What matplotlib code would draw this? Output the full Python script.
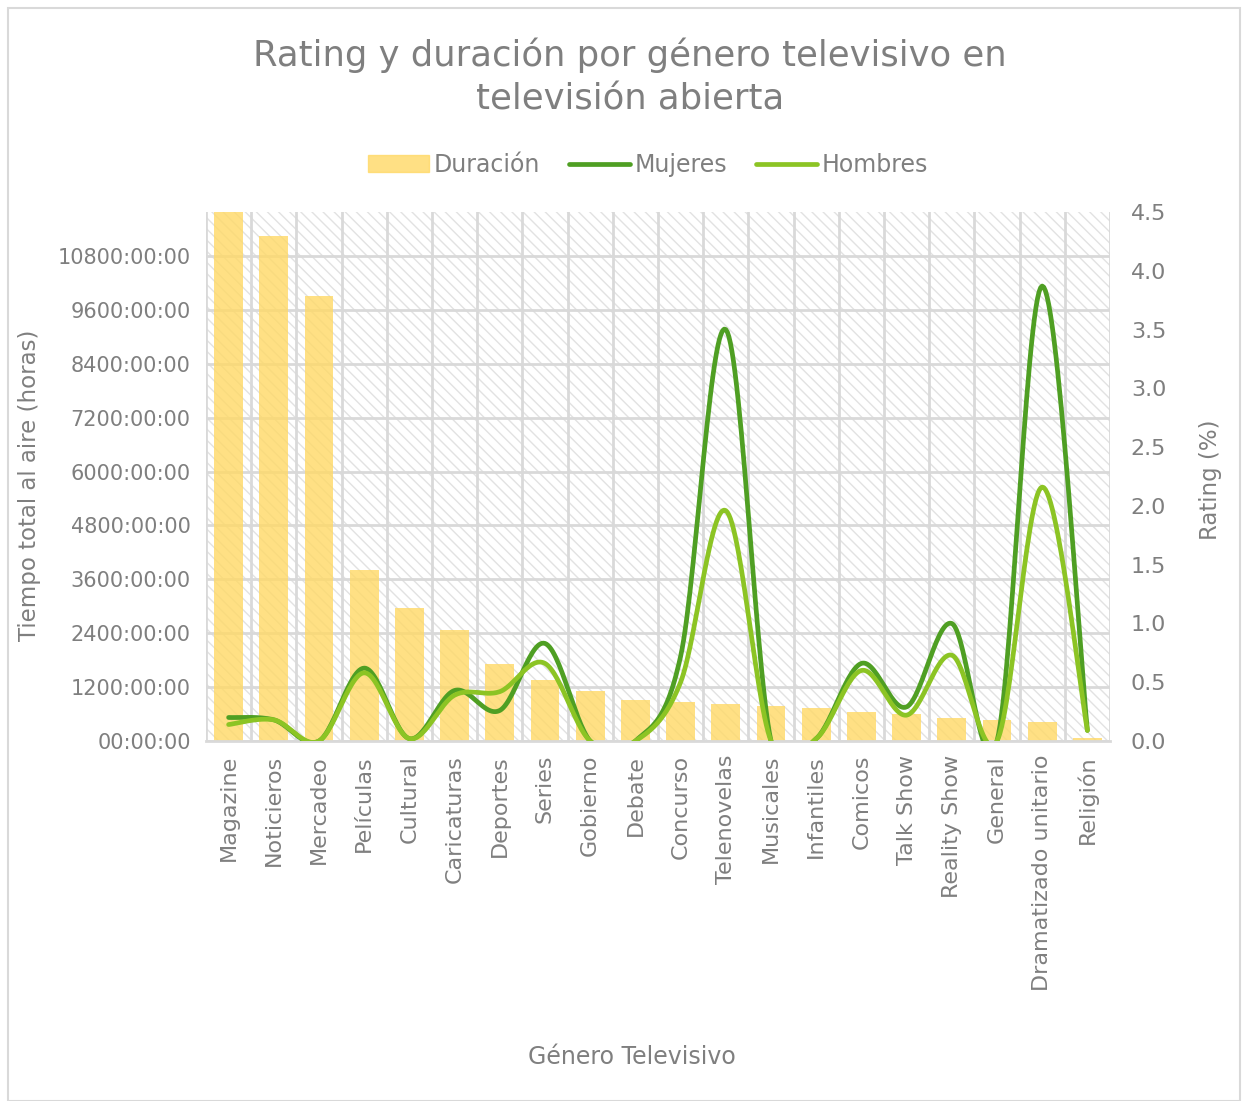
import numpy as np
import matplotlib
matplotlib.use("Agg")
import matplotlib.pyplot as plt
from matplotlib.patches import Rectangle
from matplotlib.lines import Line2D
from matplotlib.ticker import FixedLocator, FuncFormatter

# ---------------- data ----------------
generos = ["Magazine", "Noticieros", "Mercadeo", "Películas", "Cultural", "Caricaturas",
           "Deportes", "Series", "Gobierno", "Debate", "Concurso", "Telenovelas",
           "Musicales", "Infantiles", "Comicos", "Talk Show", "Reality Show", "General",
           "Dramatizado unitario", "Religión"]
duracion_horas = [11800, 11240, 9900, 3810, 2960, 2470, 1715, 1360, 1115, 915,
                  870, 825, 780, 735, 645, 600, 510, 465, 425, 70]
rating_mujeres = [0.20, 0.18, 0.00, 0.62, 0.02, 0.43, 0.26, 0.83, 0.00, 0.00,
                  0.72, 3.50, 0.00, 0.02, 0.66, 0.29, 1.00, 0.00, 3.87, 0.09]
rating_hombres = [0.14, 0.18, 0.00, 0.58, 0.02, 0.39, 0.42, 0.66, 0.00, 0.00,
                  0.50, 1.96, 0.00, 0.02, 0.60, 0.22, 0.73, 0.00, 2.16, 0.09]
left_ticks = [0, 1200, 2400, 3600, 4800, 6000, 7200, 8400, 9600, 10800]
right_ticks = [0.0, 0.5, 1.0, 1.5, 2.0, 2.5, 3.0, 3.5, 4.0, 4.5]

FONT = "DejaVu Sans"
GRAY = "#7f7f7f"
GRID = "#d9d9d9"
C_BAR = "#ffd966"
C_MUJ = "#4f9f23"
C_HOM = "#8cc424"

plt.rcParams["font.family"] = [FONT]
plt.rcParams["hatch.linewidth"] = 1.0


def smooth(xs, ys, n=30):
    """Excel-like smoothed line: Catmull-Rom cubic Bezier segments."""
    P = np.column_stack([xs, ys]).astype(float)
    Pext = np.vstack([P[0], P, P[-1]])
    out = []
    t = np.linspace(0, 1, n)
    for i in range(len(P) - 1):
        p0 = Pext[i + 1]
        p3 = Pext[i + 2]
        p1 = p0 + (Pext[i + 2] - Pext[i]) / 6.0
        p2 = p3 - (Pext[i + 3] - Pext[i + 1]) / 6.0
        seg = ((1 - t) ** 3)[:, None] * p0 + (3 * (1 - t) ** 2 * t)[:, None] * p1 \
            + (3 * (1 - t) * t ** 2)[:, None] * p2 + (t ** 3)[:, None] * p3
        out.append(seg if i == 0 else seg[1:])
    out = np.vstack(out)
    return out[:, 0], out[:, 1]


fig = plt.figure(figsize=(12.48, 11.01), dpi=100)
fig.patches.append(Rectangle((8 / 1248, 0), 1232 / 1248, 1 - 8 / 1101, transform=fig.transFigure,
                             fill=False, edgecolor=GRID, linewidth=1.5))

ax = fig.add_axes([206 / 1248, 1 - 741 / 1101, 904 / 1248, 529 / 1101])
ax.patch.set_facecolor("white")
ax.patch.set_edgecolor("#e2e2e2")
ax.patch.set_hatch("\\\\\\")
ax.patch.set_linewidth(0)

x = np.arange(len(generos))
ax.bar(x, duracion_horas, width=0.64, color=C_BAR, alpha=0.8, zorder=2)
ax.set_xlim(-0.5, len(generos) - 0.5)
ax.set_ylim(0, 11780)
ax.yaxis.set_major_locator(FixedLocator(left_ticks))
ax.yaxis.set_major_formatter(FuncFormatter(lambda v, p: "00:00:00" if v == 0 else f"{int(v)}:00:00"))
ax.set_xticks(x)
ax.set_xticklabels(generos, rotation=90, fontsize=16, color=GRAY)
ax.xaxis.set_minor_locator(FixedLocator(np.arange(-0.5, len(generos), 1.0)))
ax.set_axisbelow(True)
ax.grid(axis="y", which="major", color=GRID, linewidth=2)
ax.grid(axis="x", which="minor", color=GRID, linewidth=2)
ax.tick_params(axis="both", which="both", length=0)
ax.tick_params(axis="y", labelsize=15, labelcolor=GRAY, pad=11)
ax.tick_params(axis="x", pad=10)
for s in ["top", "left", "right"]:
    ax.spines[s].set_visible(False)
ax.spines["bottom"].set_color(GRID)
ax.spines["bottom"].set_linewidth(2)
ax.set_ylabel("Tiempo total al aire (horas)", fontsize=16.5, color=GRAY, va="center")
ax.yaxis.set_label_coords((30 - 206) / 904, (741 - 485) / 529)
ax.set_xlabel("Género Televisivo", fontsize=17, color=GRAY, va="center")
ax.xaxis.set_label_coords((632 - 206) / 904, (741 - 1057) / 529)

ax2 = ax.twinx()
ax2.set_ylim(0, 4.5)
ax2.yaxis.set_major_locator(FixedLocator(right_ticks))
ax2.yaxis.set_major_formatter(FuncFormatter(lambda v, p: f"{v:.1f}"))
ax2.tick_params(axis="y", length=0, labelsize=16, labelcolor=GRAY, pad=15)
for s in ax2.spines.values():
    s.set_visible(False)
ax2.set_ylabel("Rating (%)", fontsize=16.5, color=GRAY, va="center")
ax2.yaxis.set_label_coords((1210 - 206) / 904, (741 - 480) / 529)

xs, ys = smooth(x, rating_mujeres)
ax2.plot(xs, ys, color=C_MUJ, linewidth=3.4, solid_capstyle="round", zorder=3)
xs, ys = smooth(x, rating_hombres)
ax2.plot(xs, ys, color=C_HOM, linewidth=3.4, solid_capstyle="round", zorder=4)

fig.text(630 / 1248, 1 - 55 / 1101, "Rating y duración por género televisivo en", ha="center", va="center",
         fontsize=25.5, color=GRAY)
fig.text(630 / 1248, 1 - 100 / 1101, "televisión abierta", ha="center", va="center",
         fontsize=25.5, color=GRAY)

handles = [Rectangle((0, 0), 1, 1, color=C_BAR, alpha=0.8),
           Line2D([], [], color=C_MUJ, linewidth=3.4, solid_capstyle="round"),
           Line2D([], [], color=C_HOM, linewidth=3.4, solid_capstyle="round")]
fig.legend(handles, ["Duración", "Mujeres", "Hombres"], loc="center", ncol=3,
           bbox_to_anchor=(648 / 1248, 1 - 165 / 1101), frameon=False, fontsize=17,
           labelcolor=GRAY, handlelength=2.6, handletextpad=0.2, columnspacing=1.2)

fig.savefig("out.png", dpi=100)
